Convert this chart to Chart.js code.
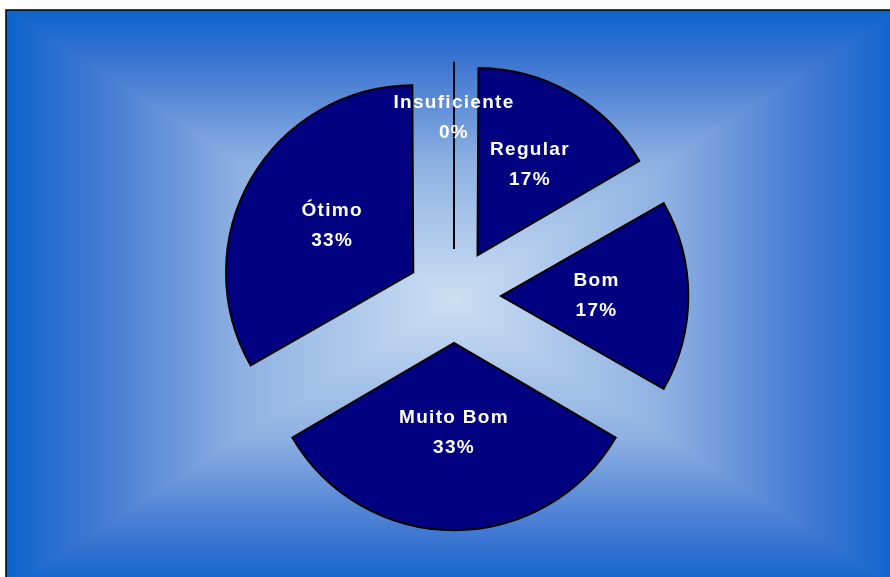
<!DOCTYPE html>
<html>
<head>
<meta charset="utf-8">
<script src="https://cdn.jsdelivr.net/npm/chart.js@4.4.1/dist/chart.umd.min.js"></script>
<style>
html,body{margin:0;padding:0;background:#fff;}
canvas{display:block;}
</style>
</head>
<body>
<canvas id="c" width="890" height="577"></canvas>
<script>
const categories = ['Insuficiente', 'Regular', 'Bom', 'Muito Bom', 'Ótimo'];
const counts = [0, 1, 1, 2, 2];

const bgPlugin = {
  id: 'bgFrame',
  beforeDraw(chart) {
    const ctx = chart.ctx;
    const x0 = 6, y0 = 10, x1 = 900, y1 = 590;
    const cx = (x0 + x1) / 2, cy = (y0 + y1) / 2;
    const stops = [[0, '#0C63CC'], [0.2, '#4178D2'], [0.52, '#8DB0E2'], [1, '#CCDFF3']];
    const tri = (pts, gx0, gy0, gx1, gy1) => {
      const g = ctx.createLinearGradient(gx0, gy0, gx1, gy1);
      stops.forEach(s => g.addColorStop(s[0], s[1]));
      ctx.beginPath();
      ctx.moveTo(pts[0][0], pts[0][1]);
      ctx.lineTo(pts[1][0], pts[1][1]);
      ctx.lineTo(pts[2][0], pts[2][1]);
      ctx.closePath();
      ctx.fillStyle = g;
      ctx.strokeStyle = g;
      ctx.lineWidth = 1.2;
      ctx.fill();
      ctx.stroke();
    };
    ctx.save();
    ctx.fillStyle = '#fff';
    ctx.fillRect(0, 0, chart.width, chart.height);
    ctx.beginPath();
    ctx.rect(x0, y0, x1 - x0, y1 - y0);
    ctx.clip();
    tri([[x0, y0], [x1, y0], [cx, cy]], cx, y0, cx, cy);
    tri([[x0, y1], [x1, y1], [cx, cy]], cx, y1, cx, cy);
    tri([[x0, y0], [x0, y1], [cx, cy]], x0, cy, cx, cy);
    tri([[x1, y0], [x1, y1], [cx, cy]], x1, cy, cx, cy);
    ctx.restore();
    ctx.save();
    ctx.strokeStyle = '#000';
    ctx.lineWidth = 1.5;
    ctx.beginPath();
    ctx.moveTo(x0, y1);
    ctx.lineTo(x0, y0);
    ctx.lineTo(x1, y0);
    ctx.stroke();
    ctx.restore();
  }
};

const labelPlugin = {
  id: 'sliceLabels',
  afterDatasetsDraw(chart, args, opts) {
    const ctx = chart.ctx;
    const meta = chart.getDatasetMeta(0);
    const data = chart.data.datasets[0].data;
    const total = data.reduce((a, b) => a + b, 0);
    const arcs = meta.data;
    let ref = arcs.find(a => a.circumference > 0);
    const refOff = (ref.options.offset || 0) / 4;
    const drawnR = ref.outerRadius + refOff * (1 - Math.sin(Math.min(Math.PI, ref.circumference)));
    ctx.save();
    arcs.forEach((el, i) => {
      const off = (el.options.offset || 0) / 4;
      const mid = (el.startAngle + el.endAngle) / 2;
      const vx = el.x + Math.cos(mid) * off;
      const vy = el.y + Math.sin(mid) * off;
      if (el.circumference === 0) {
        ctx.strokeStyle = '#000';
        ctx.lineWidth = 2;
        ctx.beginPath();
        ctx.moveTo(vx, vy);
        ctx.lineTo(vx + Math.cos(el.startAngle) * drawnR, vy + Math.sin(el.startAngle) * drawnR);
        ctx.stroke();
      }
      const f = opts.fractions[i];
      const lx = vx + Math.cos(mid) * drawnR * f;
      const ly = vy + Math.sin(mid) * drawnR * f;
      const pct = Math.round(data[i] / total * 100) + '%';
      ctx.fillStyle = '#fff';
      ctx.font = 'bold 19px "Liberation Sans", Arial, sans-serif';
      ctx.letterSpacing = '1.3px';
      ctx.textAlign = 'center';
      ctx.textBaseline = 'middle';
      ctx.fillText(chart.data.labels[i], lx, ly - 15);
      ctx.fillText(pct, lx, ly + 15);
    });
    ctx.restore();
  }
};

new Chart(document.getElementById('c'), {
  type: 'pie',
  data: {
    labels: categories,
    datasets: [{
      data: counts,
      backgroundColor: '#000080',
      borderColor: '#000000',
      borderWidth: 2,
      borderJoinStyle: 'miter',
      offset: 188,
      hoverOffset: 0,
      clip: false
    }]
  },
  options: {
    responsive: false,
    animation: false,
    events: [],
    radius: 181,
    layout: { padding: { left: 118, right: 100, top: 65, bottom: 50 } },
    plugins: {
      legend: { display: false },
      tooltip: { enabled: false },
      sliceLabels: { fractions: [0.7, 0.56, 0.51, 0.48, 0.5] }
    }
  },
  plugins: [bgPlugin, labelPlugin]
});
</script>
</body>
</html>
